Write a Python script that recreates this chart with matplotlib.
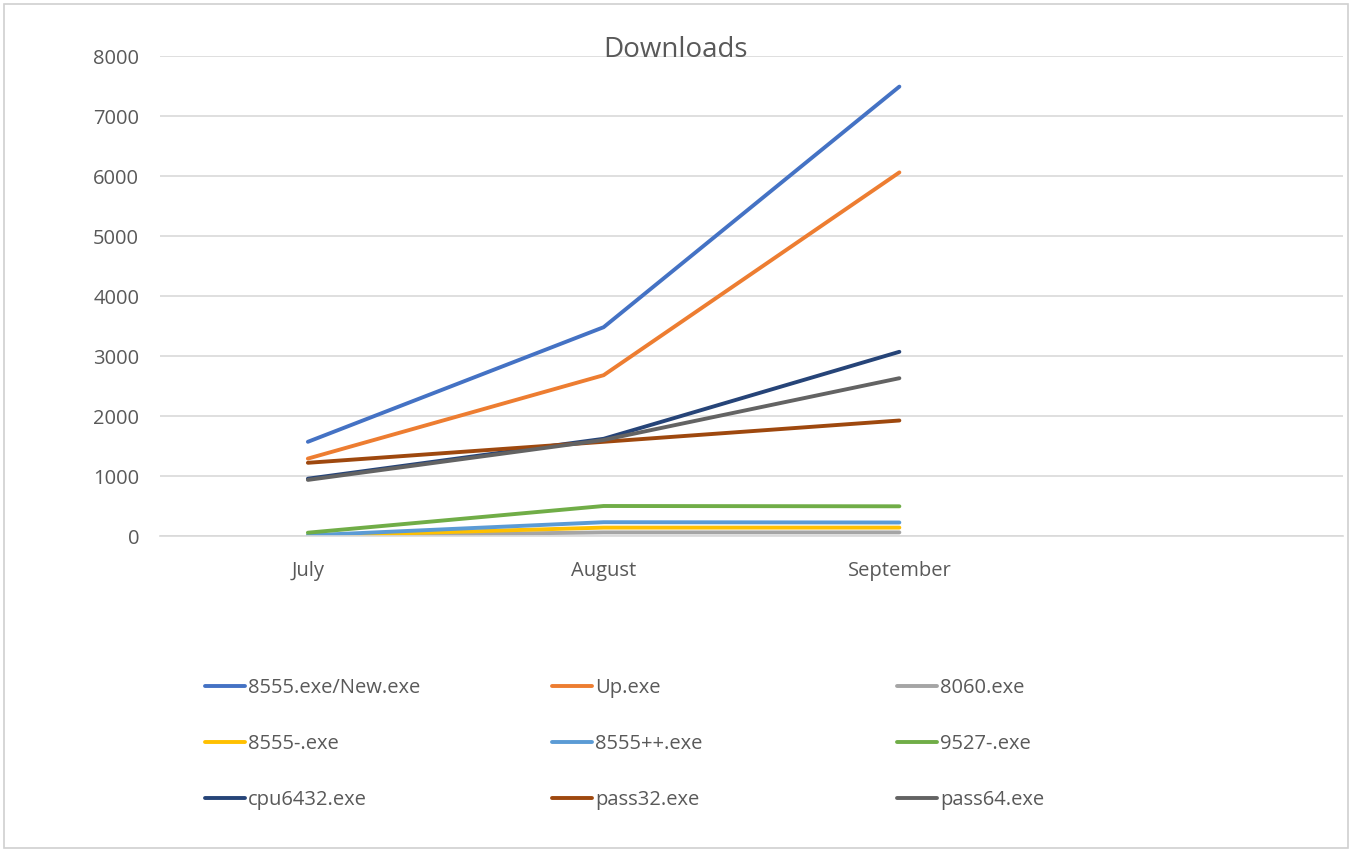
import matplotlib.pyplot as plt
from matplotlib.patches import Rectangle

months = ['July', 'August', 'September', '']
series_names = ['8555.exe/New.exe', 'Up.exe', '8060.exe',
                '8555-.exe', '8555++.exe', '9527-.exe',
                'cpu6432.exe', 'pass32.exe', 'pass64.exe']

new_exe = [1570, 3480, 7490]
up_exe = [1290, 2680, 6060]
exe_8060 = [0, 60, 60]
minus_8555 = [0, 140, 140]
plus_8555 = [10, 230, 225]
minus_9527 = [55, 500, 495]
cpu6432 = [955, 1620, 3070]
pass32 = [1220, 1570, 1925]
pass64 = [935, 1600, 2630]

values = [new_exe, up_exe, exe_8060, minus_8555, plus_8555,
          minus_9527, cpu6432, pass32, pass64]
colors = ['#4472C4', '#ED7D31', '#A5A5A5', '#FFC000', '#5B9BD5',
          '#70AD47', '#264478', '#9E480E', '#636363']

plt.rcParams['font.family'] = ['Open Sans', 'DejaVu Sans']
W, H = 1352, 852
fig = plt.figure(figsize=(W / 100, H / 100), dpi=100)
fig.patch.set_facecolor('white')

# chart frame
fig.patches.append(Rectangle((4 / W, 4 / H), (W - 8) / W, (H - 8) / H,
                             transform=fig.transFigure, fill=False,
                             edgecolor='#d0d0d0', lw=1.2))

left, right, top, bottom = 160, 1343, 56, 536
ax = fig.add_axes([left / W, 1 - bottom / H, (right - left) / W, (bottom - top) / H])

lines = []
for name, vals, c in zip(series_names, values, colors):
    ln, = ax.plot(range(len(vals)), vals, color=c, lw=2.8,
                  solid_capstyle='round', label=name)
    lines.append(ln)

ax.set_xlim(-0.5, len(months) - 0.5)
ax.set_ylim(0, 8000)
ax.set_yticks(range(0, 8001, 1000))
ax.set_xticks(range(len(months)))
ax.set_xticklabels(months)
ax.grid(axis='y', color='#d9d9d9', lw=1.2)
ax.set_axisbelow(True)
for s in ['top', 'right', 'left']:
    ax.spines[s].set_visible(False)
ax.spines['bottom'].set_color('#d9d9d9')
ax.spines['bottom'].set_linewidth(1.2)
ax.tick_params(axis='y', length=0, pad=15, labelsize=14.5, labelcolor='#595959')
ax.tick_params(axis='x', length=0, pad=18, labelsize=14.5, labelcolor='#595959')

fig.text(0.5, 1 - 50 / H, 'Downloads', ha='center', va='center',
         fontsize=20, color='#595959')

# legend: three columns, placed by hand
col_x = [205, 552, 897]
for c, x in enumerate(col_x):
    leg = fig.legend(handles=lines[c::3], loc='upper left',
                     bbox_to_anchor=(x / W, 1 - 678 / H), frameon=False,
                     fontsize=14.5, labelcolor='#595959', handlelength=2.0,
                     handletextpad=0.15, labelspacing=1.8, borderpad=0,
                     borderaxespad=0)

fig.savefig('out.png', dpi=100)
